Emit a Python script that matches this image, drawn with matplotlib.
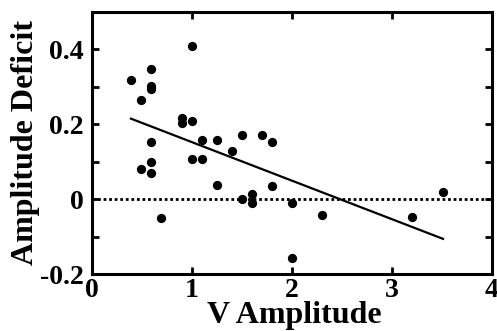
import numpy as np
import matplotlib.pyplot as plt
from matplotlib.ticker import MultipleLocator

# data
v_amp = [0.39, 0.49, 0.59, 0.59, 0.59, 0.90, 0.90, 1.00, 1.00, 0.59,
         0.49, 0.59, 0.59, 0.69, 1.00, 1.10, 1.10, 1.25, 1.25, 1.40,
         1.50, 1.50, 1.60, 1.60, 1.70, 1.80, 1.80, 2.00, 2.00, 2.30,
         3.20, 3.51]
deficit = [0.318, 0.266, 0.348, 0.301, 0.293, 0.217, 0.203, 0.210, 0.408, 0.153,
           0.080, 0.098, 0.071, -0.051, 0.106, 0.107, 0.159, 0.159, 0.039, 0.128,
           0.171, 0.000, 0.015, -0.011, 0.171, 0.153, 0.035, -0.011, -0.158, -0.041,
           -0.047, 0.018]

# regression line end points
fit_x = [0.39, 3.51]
fit_y = [0.215, -0.106]

x_ticks = [0, 1, 2, 3, 4]
y_ticks = [-0.2, 0, 0.2, 0.4]
y_labels = ['-0.2', '0', '0.2', '0.4']

plt.rcParams['font.family'] = ['Liberation Serif', 'DejaVu Serif']
plt.rcParams['font.weight'] = 'bold'

fig = plt.figure(figsize=(4.97, 3.31), dpi=100)
ax = fig.add_axes([0.185, 0.172, 0.805, 0.792])

ax.axhline(0, color='black', linestyle=(0, (1, 1)), linewidth=2.0)
ax.plot(fit_x, fit_y, color='black', linewidth=1.6)
ax.scatter(v_amp, deficit, s=32, color='black', zorder=3)

ax.set_xlim(0, 4)
ax.set_ylim(-0.2, 0.5)
ax.set_xticks(x_ticks)
ax.set_xticklabels([str(t) for t in x_ticks])
ax.set_yticks(y_ticks)
ax.set_yticklabels(y_labels)
ax.yaxis.set_minor_locator(MultipleLocator(0.1))

ax.tick_params(which='both', direction='in', top=True, right=True,
               width=2, length=5, labelsize=20)
ax.tick_params(axis='x', pad=3)
ax.tick_params(axis='y', pad=6)
for s in ax.spines.values():
    s.set_linewidth(2.2)

# axis titles placed by hand, they sit tight against the tick labels
fig.text(0.5915, 8 / 331, 'V Amplitude', fontsize=23, fontweight='bold',
         ha='center', va='baseline')
fig.text(0.052, 0.5695, 'Amplitude Deficit', fontsize=23, fontweight='bold',
         ha='center', va='center', rotation=90)

fig.savefig('out.png', dpi=100)
